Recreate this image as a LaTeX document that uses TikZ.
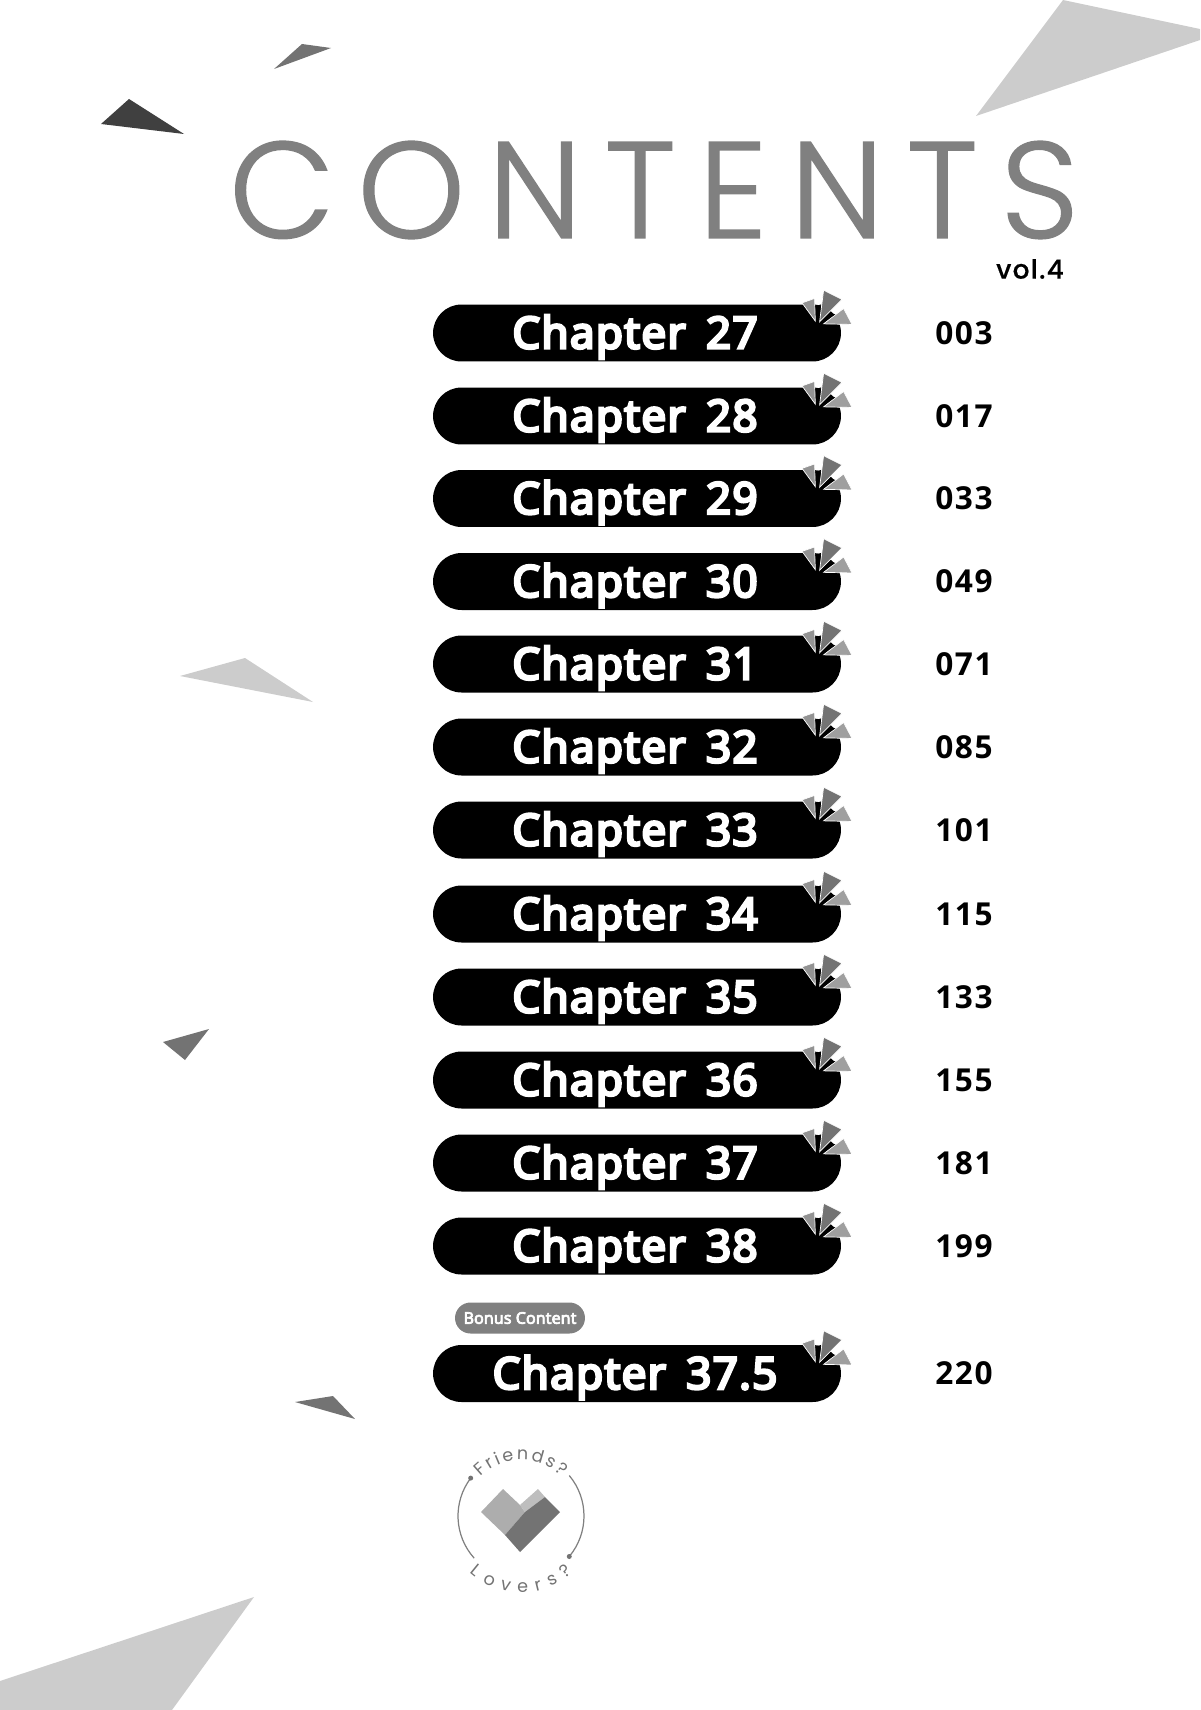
\documentclass[tikz,border=0pt]{standalone}
\usepackage{fontspec}
\usepackage{tikz}
\usetikzlibrary{calc, positioning, decorations.text}

\newfontfamily\titlefont[LetterSpace=16.5, FakeBold=1]{Poppins Light}
\newfontfamily\volfont[LetterSpace=5, FakeBold=.5]{Poppins Medium}
\newfontfamily\chapfont[FakeBold=6, LetterSpace=3, WordSpace=1.6]{Noto Sans}
\newfontfamily\tagfont[FakeBold=4]{Noto Sans}
\newfontfamily\pagefont[LetterSpace=5]{Open Sans}
\newfontfamily\badgefont{Poppins}

\definecolor{shardpale}{gray}{.8}
\definecolor{shardmid}{gray}{.68}
\definecolor{sharddark}{gray}{.45}
\definecolor{shardblack}{gray}{.25}
\definecolor{titlegray}{gray}{.5}

\tikzset{
  pill/.style={fill=black, rounded corners=.57cm, minimum width=8.16cm, minimum height=1.14cm, inner sep=0},
  chaplabel/.style={text=white, inner sep=0, yshift=-.08cm, font=\chapfont\fontsize{25}{25}\selectfont},
  pagelabel/.style={anchor=west, inner sep=0, font=\pagefont\bfseries\fontsize{18}{18}\selectfont},
  ray/.style={draw=white, line width=.4pt},
  pics/burst/.style={code={
    \fill [ray, fill=gray!85!white] (-39.3,1.3) -- (-26.7,5.7) -- (-26,-17) -- cycle;
    \fill [ray, fill=sharddark] (-17.7,14) -- (.7,4.7) -- (-21.7,-17.7) -- cycle;
    \fill [ray, fill=gray!75!white] (2.3,-4.3) -- (10.7,-20.3) -- (-17.7,-19.7) -- cycle;
    \fill [black] (-26,-2) -- (-20.3,-.3) -- (-23.7,-16.3) -- cycle;
    \fill [black] (-11,-8.7) -- (-6,-10.3) -- (-21,-18.7) -- cycle;
  }}
}

\begin{document}
\begin{tikzpicture}[x=.02cm, y=.02cm]
  \useasboundingbox (0,0) rectangle (1200,-1710);
  % shards
  \fill [shardpale] (1063,0) -- (1200,-29) -- (1200,-40) -- (976,-116) -- cycle;
  \fill [sharddark] (302,-44) -- (331,-48) -- (274,-69) -- cycle;
  \fill [shardblack] (129,-99) -- (184,-134) -- (101,-124) -- cycle;
  \fill [shardpale] (180,-676) -- (245,-658) -- (313,-702) -- cycle;
  \fill [sharddark] (163,-1042) -- (209,-1029) -- (185,-1060) -- cycle;
  \fill [sharddark] (295,-1402) -- (333,-1396) -- (355,-1419) -- cycle;
  \fill [shardpale] (254,-1597) -- (172,-1710) -- (0,-1710) -- (0,-1681) -- cycle;
  % heading
  \node (title) at (654,-190) [inner sep=0, text=titlegray, font=\titlefont\fontsize{78}{78}\selectfont] {CONTENTS};
  \node (vol) at (1030,-269) [inner sep=0, font=\volfont\fontsize{15}{15}\selectfont] {vol.4};
  % chapters
  \foreach \key/\num/\pg/\ypos in {a/27/003/333, b/28/017/416, c/29/033/498.5, d/30/049/581.5, e/31/071/664,
      f/32/085/747, g/33/101/830, h/34/115/914, i/35/133/997, j/36/155/1080, k/37/181/1163, l/38/199/1246, m/37.5/220/1373.5} {
    \node [pill] (chap\key) at (637,-\ypos) {};
    \node [chaplabel] (name\key) at (635,-\ypos) {Chapter \num};
    \node [pagelabel] (page\key) at (935,-\ypos) {\pg};
    \pic at (chap\key.north east) {burst};
  }
  % bonus tag
  \node (bonus) at (520,-1318) [fill=titlegray, text=white, rounded corners=.31cm, minimum width=2.6cm, minimum height=.62cm,
    inner sep=0, font=\tagfont\fontsize{9.2}{9.2}\selectfont] {Bonus Content};
  % badge
  \coordinate (badge) at (521,-1516);
  \draw [titlegray, line width=.7pt] (badge) ++(143:1.26cm) arc [start angle=143, end angle=222, radius=1.26cm];
  \draw [titlegray, line width=.7pt] (badge) ++(40:1.26cm) arc [start angle=40, end angle=-40, radius=1.26cm];
  \fill [sharddark] (badge) ++(143:1.26cm) circle [radius=.05cm];
  \fill [sharddark] (badge) ++(-40:1.26cm) circle [radius=.05cm];
  \path [decorate, decoration={text along path, text align={fit to path}, text={|\badgefont\fontsize{10}{10}\selectfont\color{sharddark}|Friends?}}]
    (badge) ++(136:1.12cm) arc [start angle=136, end angle=44, radius=1.12cm];
  \path [decorate, decoration={text along path, text align={fit to path}, text={|\badgefont\fontsize{10}{10}\selectfont\color{sharddark}|Lovers?}}]
    (badge) ++(228:1.53cm) arc [start angle=228, end angle=312, radius=1.53cm];
  % heart
  \fill [shardmid] (481,-1512) -- (503,-1489) -- (520,-1505) -- (525,-1512) -- (505,-1535) -- cycle;
  \fill [shardmid!80!white] (520,-1505) -- (538,-1489) -- (545,-1497) -- (525,-1512) -- cycle;
  \fill [sharddark] (545,-1497) -- (560,-1512) -- (520,-1552) -- (505,-1535) -- (525,-1512) -- cycle;
\end{tikzpicture}
\end{document}
